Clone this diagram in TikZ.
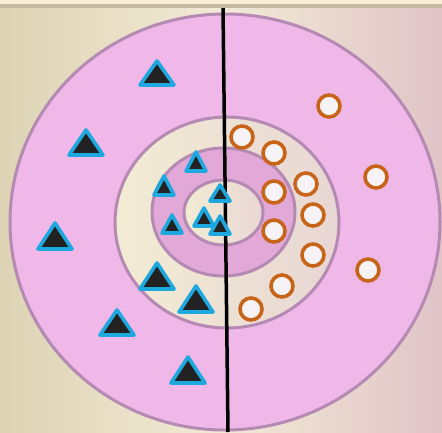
\documentclass[tikz,border=0pt]{standalone}
\usetikzlibrary{calc}
\definecolor{bgL}{RGB}{221,211,180}
\definecolor{bgM}{RGB}{242,234,214}
\definecolor{bgR}{RGB}{224,196,200}
\definecolor{topband}{RGB}{248,238,216}
\definecolor{topline}{RGB}{196,186,160}
\definecolor{pinkA}{RGB}{240,184,232}
\definecolor{pinkB}{RGB}{226,168,216}
\definecolor{ringline}{RGB}{180,138,178}
\definecolor{creamL}{RGB}{243,236,212}
\definecolor{creamR}{RGB}{232,214,212}
\definecolor{tricyan}{RGB}{30,168,224}
\definecolor{trifill}{RGB}{34,34,34}
\definecolor{circorange}{RGB}{200,100,24}
\definecolor{circfill}{RGB}{246,242,246}
\tikzset{
  ringstyle/.style={draw=ringline, line width=3pt},
  tristyle/.style={draw=tricyan, fill=trifill, line width=3.6pt, line join=round},
  circstyle/.style={draw=circorange, fill=circfill, line width=3.6pt},
  divider/.style={draw=black, line width=3.5pt}
}
\newcommand{\bigtriangleat}[3]{\draw[tristyle] (#1,#2+4) -- (#1+17,#3-2) -- (#1-17,#3-2) -- cycle;}
\newcommand{\smalltriangleat}[3]{\draw[tristyle] (#1,#2+4) -- (#1+10,#3-2) -- (#1-10,#3-2) -- cycle;}
\begin{document}
\begin{tikzpicture}[x=1pt,y=-1pt]
\useasboundingbox (0,0) rectangle (442,432);
% background
\shade[left color=bgL, right color=bgR, middle color=bgM] (0,0) rectangle (442,432);
\fill[topband] (0,0) rectangle (442,4);
\fill[topline] (0,4) rectangle (442,7.5);
% rings
\draw[ringstyle, fill=pinkA] (225,222) ellipse [x radius=215, y radius=208];
\shade[left color=creamL, right color=creamR] (227,222.5) ellipse [x radius=112, y radius=105.5];
\draw[ringstyle] (227,222.5) ellipse [x radius=112, y radius=105.5];
\draw[ringstyle, fill=pinkB] (223.5,212) ellipse [x radius=71.5, y radius=64];
\shade[left color=creamL, right color=creamR] (223.5,212.5) ellipse [x radius=39.5, y radius=32.5];
\draw[ringstyle] (223.5,212.5) ellipse [x radius=39.5, y radius=32.5];
% divider
\coordinate (lineTop) at (223,8);
\coordinate (lineBot) at (228,432);
\draw[divider] (lineTop) -- (lineBot);
% circles
\foreach \cx/\cy in {329/106, 242/137, 274/153, 376/177, 306/184, 274/192, 313/215, 274/231, 313/255, 368/270, 282/286, 251/309}
  \draw[circstyle] (\cx,\cy) circle [radius=11];
% triangles
\bigtriangleat{157}{57}{87}
\bigtriangleat{86}{126}{157}
\bigtriangleat{55}{219}{251}
\bigtriangleat{157}{259}{291}
\bigtriangleat{196}{282}{314}
\bigtriangleat{117}{306}{337}
\bigtriangleat{188}{353}{385}
\smalltriangleat{196}{148}{173}
\smalltriangleat{164}{172}{197}
\smalltriangleat{172}{211}{235}
\smalltriangleat{220}{181}{203}
\smalltriangleat{204}{204}{228}
\smalltriangleat{220}{212}{236}
\end{tikzpicture}
\end{document}
